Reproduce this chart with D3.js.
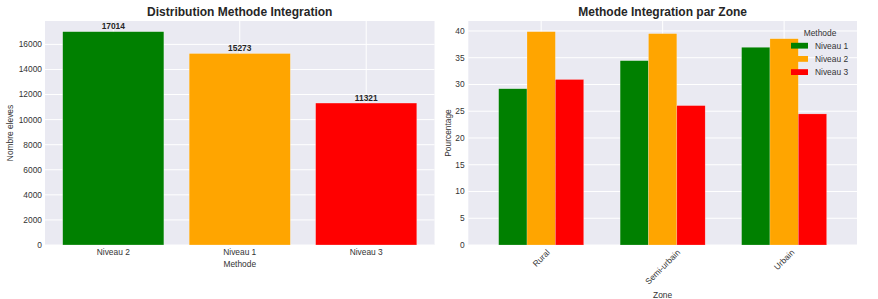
<!DOCTYPE html>
<html>
<head>
<meta charset="utf-8">
<script src="https://cdn.jsdelivr.net/npm/d3@7"></script>
<style>
  body { margin: 0; background: #fff; }
  svg { font-family: "Liberation Sans", Arial, sans-serif; }
</style>
</head>
<body>
<div id="chart"></div>
<script>
// left panel data
const methodes = ["Niveau 2", "Niveau 1", "Niveau 3"];
const effectifs = [17014, 15273, 11321];
const methodeColors = ["green", "orange", "red"];
const countTicks = [0, 2000, 4000, 6000, 8000, 10000, 12000, 14000, 16000];

// right panel data
const zones = ["Rural", "Semi-urbain", "Urbain"];
const niveaux = ["Niveau 1", "Niveau 2", "Niveau 3"];
const niveau1 = [29.2, 34.45, 36.95];
const niveau2 = [39.87, 39.5, 38.55];
const niveau3 = [30.93, 26.05, 24.5];
const niveauColors = ["green", "orange", "red"];
const pctTicks = [0, 5, 10, 15, 20, 25, 30, 35, 40];

const W = 878, H = 299;
const bg = "#EAEAF2", txt = "#333", fs = 8.4;
const plotTop = 21, plotBottom = 245;

const svg = d3.select("#chart").append("svg")
  .attr("width", W).attr("height", H);

// ---------- left: distribution ----------
let x1 = d3.scaleLinear().domain([-0.54, 2.54]).range([45, 434.5]);
let y1 = d3.scaleLinear().domain([0, d3.max(effectifs) * 1.05]).range([plotBottom, plotTop]);

let g1 = svg.append("g");
g1.append("rect").attr("x", x1.range()[0]).attr("y", plotTop)
  .attr("width", x1.range()[1] - x1.range()[0]).attr("height", plotBottom - plotTop)
  .attr("fill", bg);

g1.selectAll(".hg").data(countTicks).enter().append("line")
  .attr("x1", x1.range()[0]).attr("x2", x1.range()[1])
  .attr("y1", (d) => y1(d)).attr("y2", (d) => y1(d))
  .attr("stroke", "#fff").attr("stroke-width", 1);
g1.selectAll(".vg").data(methodes).enter().append("line")
  .attr("x1", (d, i) => x1(i)).attr("x2", (d, i) => x1(i))
  .attr("y1", plotTop).attr("y2", plotBottom)
  .attr("stroke", "#fff").attr("stroke-width", 1);

g1.selectAll(".bar").data(effectifs).enter().append("rect")
  .attr("x", (d, i) => x1(i - 0.4))
  .attr("width", x1(0.8) - x1(0))
  .attr("y", (d) => y1(d))
  .attr("height", (d) => plotBottom - y1(d))
  .attr("fill", (d, i) => methodeColors[i])
  .attr("stroke", "#fff").attr("stroke-opacity", 0.5).attr("stroke-width", 0.5);

g1.selectAll(".val").data(effectifs).enter().append("text")
  .attr("x", (d, i) => x1(i)).attr("y", (d) => y1(d) - 2.5)
  .attr("text-anchor", "middle").attr("font-size", fs).attr("font-weight", "bold")
  .attr("fill", "#262626").text((d) => d);

g1.selectAll(".yt").data(countTicks).enter().append("text")
  .attr("x", 42).attr("y", (d) => y1(d)).attr("dy", "0.35em")
  .attr("text-anchor", "end").attr("font-size", fs).attr("fill", txt).text((d) => d);
g1.selectAll(".xt").data(methodes).enter().append("text")
  .attr("x", (d, i) => x1(i)).attr("y", 252).attr("dy", "0.35em")
  .attr("text-anchor", "middle").attr("font-size", fs).attr("fill", txt).text((d) => d);

g1.append("text").attr("x", (x1.range()[0] + x1.range()[1]) / 2).attr("y", 264).attr("dy", "0.35em")
  .attr("text-anchor", "middle").attr("font-size", fs).attr("fill", txt).text("Methode");
g1.append("text").attr("transform", "translate(10," + (plotTop + plotBottom) / 2 + ") rotate(-90)")
  .attr("dy", "0.35em").attr("text-anchor", "middle").attr("font-size", fs).attr("fill", txt)
  .text("Nombre eleves");
g1.append("text").attr("x", (x1.range()[0] + x1.range()[1]) / 2).attr("y", 12).attr("dy", "0.35em")
  .attr("text-anchor", "middle").attr("font-size", 12).attr("font-weight", "bold")
  .attr("fill", "#262626").text("Distribution Methode Integration");

// ---------- right: par zone ----------
let series = [niveau1, niveau2, niveau3];
let allVals = series.flat();
let x2 = d3.scaleLinear().domain([-0.6, 2.6]).range([468.3, 857]);
let y2 = d3.scaleLinear().domain([0, d3.max(allVals) * 1.05]).range([plotBottom, plotTop]);
let bw = 0.7 / 3;

let g2 = svg.append("g");
g2.append("rect").attr("x", x2.range()[0]).attr("y", plotTop)
  .attr("width", x2.range()[1] - x2.range()[0]).attr("height", plotBottom - plotTop)
  .attr("fill", bg);
g2.selectAll(".hg").data(pctTicks).enter().append("line")
  .attr("x1", x2.range()[0]).attr("x2", x2.range()[1])
  .attr("y1", (d) => y2(d)).attr("y2", (d) => y2(d))
  .attr("stroke", "#fff").attr("stroke-width", 1);
g2.selectAll(".vg").data(zones).enter().append("line")
  .attr("x1", (d, i) => x2(i)).attr("x2", (d, i) => x2(i))
  .attr("y1", plotTop).attr("y2", plotBottom)
  .attr("stroke", "#fff").attr("stroke-width", 1);

series.forEach(function (vals, s) {
  g2.selectAll(".bar" + s).data(vals).enter().append("rect")
    .attr("x", (d, i) => x2(i + (s - 1.5) * bw))
    .attr("width", x2(bw) - x2(0))
    .attr("y", (d) => y2(d))
    .attr("height", (d) => plotBottom - y2(d))
    .attr("fill", niveauColors[s])
    .attr("stroke", "#fff").attr("stroke-opacity", 0.4).attr("stroke-width", 0.5);
});

g2.selectAll(".yt").data(pctTicks).enter().append("text")
  .attr("x", 464.7).attr("y", (d) => y2(d)).attr("dy", "0.35em")
  .attr("text-anchor", "end").attr("font-size", fs).attr("fill", txt).text((d) => d);

// rotated zone labels, bbox centred under the tick, top at 248
g2.selectAll(".xt").data(zones).enter().append("text")
  .attr("text-anchor", "middle").attr("dy", "0.35em")
  .attr("font-size", fs).attr("fill", txt).text((d) => d)
  .attr("transform", function (d, i) {
    let w = this.getComputedTextLength();
    let side = (w + fs) / Math.SQRT2;
    return "translate(" + x2(i) + "," + (248 + side / 2) + ") rotate(-45)";
  });

g2.append("text").attr("x", (x2.range()[0] + x2.range()[1]) / 2).attr("y", 295).attr("dy", "0.35em")
  .attr("text-anchor", "middle").attr("font-size", fs).attr("fill", txt).text("Zone");
g2.append("text").attr("transform", "translate(448," + (plotTop + plotBottom) / 2 + ") rotate(-90)")
  .attr("dy", "0.35em").attr("text-anchor", "middle").attr("font-size", fs).attr("fill", txt)
  .text("Pourcentage");
g2.append("text").attr("x", (x2.range()[0] + x2.range()[1]) / 2).attr("y", 12).attr("dy", "0.35em")
  .attr("text-anchor", "middle").attr("font-size", 12).attr("font-weight", "bold")
  .attr("fill", "#262626").text("Methode Integration par Zone");

// legend
let lg = g2.append("g");
lg.append("text").attr("x", 820).attr("y", 33).attr("dy", "0.35em")
  .attr("text-anchor", "middle").attr("font-size", fs).attr("fill", txt).text("Methode");
niveaux.forEach(function (n, i) {
  let yy = 45.7 + i * 13.2;
  lg.append("rect").attr("x", 791).attr("y", yy - 2.9).attr("width", 17).attr("height", 5.8)
    .attr("fill", niveauColors[i]);
  lg.append("text").attr("x", 815).attr("y", yy).attr("dy", "0.35em")
    .attr("font-size", fs).attr("fill", txt).text(n);
});
</script>
</body>
</html>
